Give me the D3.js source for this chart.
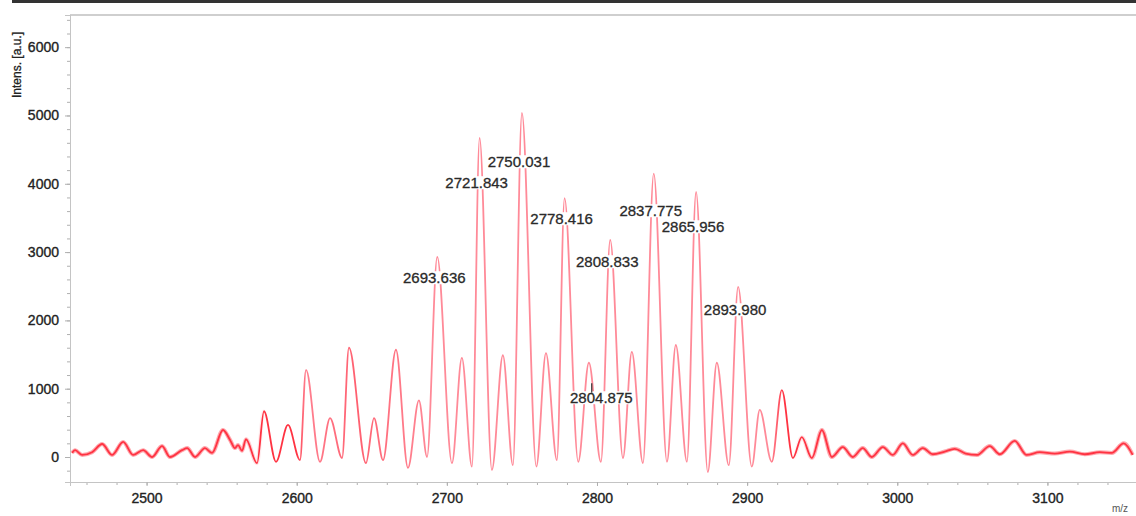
<!DOCTYPE html>
<html>
<head>
<meta charset="utf-8">
<script src="https://cdn.jsdelivr.net/npm/d3@7"></script>
<style>
  body { margin: 0; background: #fff; }
  svg { display: block; font-family: "Liberation Sans", Arial, sans-serif; }
</style>
</head>
<body>
<div id="chart"></div>
<script>
// spectrum: m/z and intensity (a.u.)
const mzValues = [
  2450.4, 2452.4, 2457.1, 2463.7, 2470.4, 2477.0, 2484.4, 2491.0, 2497.7, 2503.7,
  2510.3, 2515.6, 2523.6, 2527.0, 2532.3, 2538.9, 2543.6, 2550.9, 2555.6, 2558.9,
  2560.9, 2563.6, 2566.2, 2573.6, 2578.2, 2586.2, 2594.2, 2602.2, 2606.2, 2615.5,
  2622.2, 2630.2, 2634.8, 2646.1, 2651.5, 2657.5, 2666.1, 2674.1, 2681.4, 2686.8,
  2693.6, 2703.4, 2710.0, 2716.7, 2721.8, 2730.0, 2737.3, 2744.0, 2750.0, 2759.6,
  2766.0, 2773.3, 2778.4, 2787.5, 2794.6, 2802.6, 2808.8, 2817.3, 2823.2, 2830.6,
  2837.8, 2846.6, 2852.5, 2859.9, 2866.0, 2873.8, 2879.8, 2887.8, 2894.0, 2903.1,
  2908.4, 2916.4, 2923.1, 2930.5, 2936.4, 2943.1, 2949.8, 2956.4, 2963.7, 2970.4,
  2977.0, 2983.0, 2990.4, 2997.0, 3003.7, 3010.3, 3017.0, 3023.6, 3031.6, 3038.3,
  3045.6, 3053.0, 3061.6, 3068.3, 3078.2, 3086.2, 3094.9, 3104.9, 3114.9, 3124.9,
  3134.9, 3142.9, 3150.8, 3156.8
];
const intensities = [
  60, 100, 30, 70, 190, 30, 220, 30, 100, 0,
  160, 0, 100, 130, 0, 130, 60, 395, 250, 130,
  175, 90, 260, -90, 670, -70, 470, -45, 1275, -70,
  570, -15, 1600, -90, 570, -45, 1570, -160, 830, 0,
  2930, -90, 1450, -140, 4670, -190, 1490, -120, 5036, -140,
  1520, -45, 3790, -70, 1380, -70, 3180, -15, 1540, -90,
  4150, -70, 1640, -70, 3880, -220, 1380, -120, 2490, -140,
  690, -70, 980, -15, 290, -15, 395, 0, 145, 0,
  130, 0, 145, 30, 200, 30, 130, 40, 80, 120,
  50, 30, 160, 40, 235, 30, 70, 50, 80, 40,
  70, 60, 200, 30
];

// peak annotations: text and the intensity the label sits at
const peakLabels = ["2693.636", "2721.843", "2750.031", "2778.416", "2808.833",
                    "2837.775", "2865.956", "2893.980", "2804.875"];
const labelLevels = [2621, 4012, 4319, 3485, 2855, 3602, 3367, 2152, 864];

const yTicks = [0, 1000, 2000, 3000, 4000, 5000, 6000];
const xTicks = [2500, 2600, 2700, 2800, 2900, 3000, 3100];

const W = 1136, H = 516;
const margin = {top: 15, right: 0, bottom: 34, left: 70};

const svg = d3.select("#chart").append("svg")
    .attr("width", W)
    .attr("height", H);

// dark strip along the top of the scan
svg.append("rect")
    .attr("x", 12).attr("y", 0)
    .attr("width", W - 12).attr("height", 3)
    .attr("fill", "#333");

let x = d3.scaleLinear()
    .domain([2449, 3159])
    .range([margin.left, W - margin.right]);

let y = d3.scaleLinear()
    .domain([-366, 6471])
    .range([H - margin.bottom, margin.top]);

// frame top
svg.append("line")
    .attr("x1", margin.left).attr("x2", W)
    .attr("y1", margin.top).attr("y2", margin.top)
    .attr("stroke", "#cfcfcf").attr("stroke-width", 2);

// ---- AXES ----
svg.append("g")
    .attr("transform", "translate(" + margin.left + ",0)")
    .call(d3.axisLeft(y).tickValues(d3.range(-200, 6401, 200)).tickSize(3).tickFormat(""));

let yAxisGroup = svg.append("g")
    .attr("class", "y-axis")
    .attr("transform", "translate(" + margin.left + ",0)")
    .call(d3.axisLeft(y).tickValues(yTicks).tickSize(5).tickPadding(6).tickFormat(d3.format("d")));

svg.append("g")
    .attr("transform", "translate(0," + (H - margin.bottom) + ")")
    .call(d3.axisBottom(x).tickValues(d3.range(2460, 3160, 20)).tickSize(3).tickFormat(""));

let xAxisGroup = svg.append("g")
    .attr("class", "x-axis")
    .attr("transform", "translate(0," + (H - margin.bottom) + ")")
    .call(d3.axisBottom(x).tickValues(xTicks).tickSize(4).tickPadding(7).tickFormat(d3.format("d")));

svg.selectAll(".domain").attr("stroke", "#c4c4c4");
svg.selectAll(".tick line").attr("stroke", "#b0b0b0");
svg.selectAll(".tick text")
    .attr("fill", "#222")
    .attr("stroke", "#222")
    .attr("stroke-width", 0.35)
    .style("font-size", "14px");

// axis titles
svg.append("text")
    .attr("transform", "translate(21,98) rotate(-90)")
    .attr("fill", "#222")
    .attr("stroke", "#222")
    .attr("stroke-width", 0.3)
    .style("font-size", "12px")
    .text("Intens. [a.u.]");

svg.append("text")
    .attr("x", 1120).attr("y", 512)
    .attr("text-anchor", "middle")
    .attr("fill", "#555")
    .style("font-size", "10px")
    .text("m/z");

// ---- SPECTRUM ----
let spectrum = mzValues.map((m, i) => ({mz: m, value: intensities[i]}));

let defs = svg.append("defs");

// scan renders steep peak flanks pale, baseline stays solid red
function addGradient(id, stops) {
    let g = defs.append("linearGradient")
        .attr("id", id)
        .attr("gradientUnits", "userSpaceOnUse")
        .attr("x1", x(2449)).attr("x2", x(3159))
        .attr("y1", 0).attr("y2", 0);
    stops.forEach(s => g.append("stop")
        .attr("offset", (x(s[0]) - x(2449)) / (x(3159) - x(2449)))
        .attr("stop-color", s[1])
        .attr("stop-opacity", s[2]));
}
addGradient("traceColor", [
    [2449, "#ff3342", 1], [2600, "#ff3342", 1], [2606, "#ff8090", 1], [2640, "#ff6070", 1],
    [2690, "#ff8a98", 1], [2915, "#ff8a98", 1], [2925, "#ff3342", 1], [3159, "#ff3342", 1]]);
// noise haze that thickens the flat baseline
addGradient("hazeColor", [
    [2449, "#ff3a48", 0.45], [2560, "#ff3a48", 0.45], [2580, "#ff3a48", 0],
    [2930, "#ff3a48", 0], [2950, "#ff3a48", 0.45], [3159, "#ff3a48", 0.45]]);

let line = d3.line()
    .x(d => x(d.mz))
    .y(d => y(d.value))
    .curve(d3.curveMonotoneX);

svg.append("path")
    .datum(spectrum)
    .attr("fill", "none")
    .attr("stroke", "url(#hazeColor)")
    .attr("stroke-width", 4)
    .attr("stroke-linejoin", "round")
    .attr("d", line);

svg.append("path")
    .datum(spectrum)
    .attr("fill", "none")
    .attr("stroke", "url(#traceColor)")
    .attr("stroke-width", 1.8)
    .attr("stroke-linejoin", "round")
    .attr("d", line);

// ---- PEAK LABELS ----
let labelGroup = svg.append("g");
peakLabels.forEach((t, i) => {
    let g = labelGroup.append("g");
    let bg = g.append("rect").attr("fill", "#fff");
    let txt = g.append("text")
        .attr("x", x(+t) - 3)
        .attr("y", y(labelLevels[i]))
        .attr("dy", "0.35em")
        .attr("text-anchor", "middle")
        .attr("fill", "#2a2a2a")
        .attr("stroke", "#2a2a2a")
        .attr("stroke-width", 0.3)
        .style("font-size", "15px")
        .text(t);
    let b = txt.node().getBBox();
    bg.attr("x", b.x).attr("y", b.y + 2)
      .attr("width", b.width).attr("height", b.height - 4);
});

// short leader from the small 2804.875 label up to its peak
labelGroup.append("line")
    .attr("x1", x(2796.5)).attr("x2", x(2796.5))
    .attr("y1", y(1080)).attr("y2", y(940))
    .attr("stroke", "#333").attr("stroke-width", 1.2);
</script>
</body>
</html>
